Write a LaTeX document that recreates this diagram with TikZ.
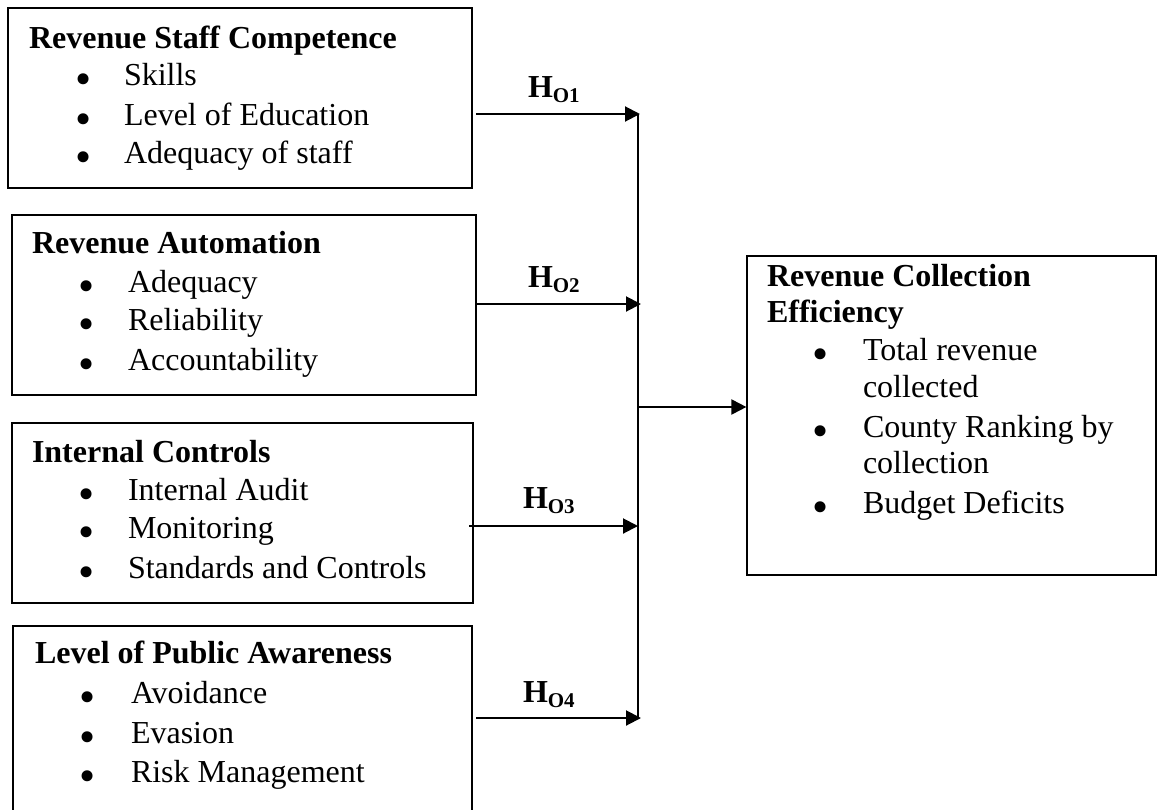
\documentclass[tikz,border=0pt]{standalone}
\usepackage{fontspec}
\setmainfont{Liberation Serif}
\usetikzlibrary{arrows.meta}
\tikzset{
  box/.style={draw, line width=1.2pt, rectangle, inner sep=0pt},
  txt/.style={inner sep=0pt, outer sep=0pt, font=\fontsize{32}{38}\selectfont},
  ttl/.style={txt, font=\fontsize{32}{38}\selectfont\bfseries, anchor=base west},
  itm/.style={txt, anchor=base west},
  bul/.style={inner sep=0pt, outer sep=0pt, font=\fontsize{46}{46}\selectfont, anchor=base, yshift=-9.5pt},
  hlab/.style={inner sep=0pt, outer sep=0pt, font=\fontsize{32}{38}\selectfont\bfseries, anchor=base west},
  arr/.style={line width=2pt, -{Triangle[length=15pt,width=15pt]}},
  conn/.style={line width=2pt}
}
\newcommand\hsub[1]{H\raisebox{-5pt}{\fontsize{21}{21}\selectfont #1}}
\newcommand\bdot{\smash{•}}
\begin{document}
\begin{tikzpicture}[x=1pt,y=-1pt]
\useasboundingbox (0,0) rectangle (1157,809);
% boxes
\node[box, minimum width=464pt, minimum height=180pt] (b1) at (240,98) {};
\node[box, minimum width=464pt, minimum height=180pt] (b2) at (244,305) {};
\node[box, minimum width=461pt, minimum height=180pt] (b3) at (242.5,513) {};
\node[box, minimum width=459pt, minimum height=190pt] (b4) at (242.5,721) {};
\node[box, minimum width=409pt, minimum height=319pt] (rb) at (951.5,415.5) {};
% box 1
\node[ttl] (t1) at (29,48) {Revenue Staff Competence};
\node[bul] (b1p1) at (84,85) {\bdot}; \node[itm] (b1i1) at (124,85) {Skills};
\node[bul] (b1p2) at (84,125) {\bdot}; \node[itm] (b1i2) at (124,125) {Level of Education};
\node[bul] (b1p3) at (84,163) {\bdot}; \node[itm] (b1i3) at (124,163) {Adequacy of staff};
% box 2
\node[ttl] (t2) at (32,253) {Revenue Automation};
\node[bul] (b2p1) at (87,292) {\bdot}; \node[itm] (b2i1) at (128,292) {Adequacy};
\node[bul] (b2p2) at (87,330) {\bdot}; \node[itm] (b2i2) at (128,330) {Reliability};
\node[bul] (b2p3) at (87,370) {\bdot}; \node[itm] (b2i3) at (128,370) {Accountability};
% box 3
\node[ttl] (t3) at (32,462) {Internal Controls};
\node[bul] (b3p1) at (87,500) {\bdot}; \node[itm] (b3i1) at (128,500) {Internal Audit};
\node[bul] (b3p2) at (87,538) {\bdot}; \node[itm] (b3i2) at (128,538) {Monitoring};
\node[bul] (b3p3) at (87,578) {\bdot}; \node[itm] (b3i3) at (128,578) {Standards and Controls};
% box 4
\node[ttl] (t4) at (35,663) {Level of Public Awareness};
\node[bul] (b4p1) at (88,703) {\bdot}; \node[itm] (b4i1) at (131,703) {Avoidance};
\node[bul] (b4p2) at (88,743) {\bdot}; \node[itm] (b4i2) at (131,743) {Evasion};
\node[bul] (b4p3) at (88,782) {\bdot}; \node[itm] (b4i3) at (131,782) {Risk Management};
% right box
\node[ttl] (t5a) at (767,286) {Revenue Collection};
\node[ttl] (t5b) at (767,322) {Efficiency};
\node[bul] (r1p) at (821,360) {\bdot}; \node[itm] (r1a) at (863,360) {Total revenue};
\node[itm] (r1b) at (863,397) {collected};
\node[bul] (r2p) at (821,437) {\bdot}; \node[itm] (r2a) at (863,437) {County Ranking by};
\node[itm] (r2b) at (863,473) {collection};
\node[bul] (r3p) at (821,513) {\bdot}; \node[itm] (r3a) at (863,513) {Budget Deficits};
% junctions
\coordinate (j1) at (640,114);
\coordinate (j2) at (641,304);
\coordinate (j3) at (638,526);
\coordinate (j4) at (641,718);
\coordinate (jt) at (638,114);
\coordinate (jb) at (638,718);
\coordinate (jm) at (638,407);
\coordinate (s1) at (476,114);
\coordinate (s2) at (476,304);
\coordinate (s3) at (469,526);
\coordinate (s4) at (476,718);
\draw[conn] (jt) -- (jb);
\draw[arr] (s1) -- (j1);
\draw[arr] (s2) -- (j2);
\draw[arr] (s3) -- (j3);
\draw[arr] (s4) -- (j4);
\draw[arr] (jm) -- (rb.west |- jm);
% labels
\node[hlab] (h1) at (528,97) {\hsub{O1}};
\node[hlab] (h2) at (528,287) {\hsub{O2}};
\node[hlab] (h3) at (523,508) {\hsub{O3}};
\node[hlab] (h4) at (523,702) {\hsub{O4}};
\end{tikzpicture}
\end{document}
